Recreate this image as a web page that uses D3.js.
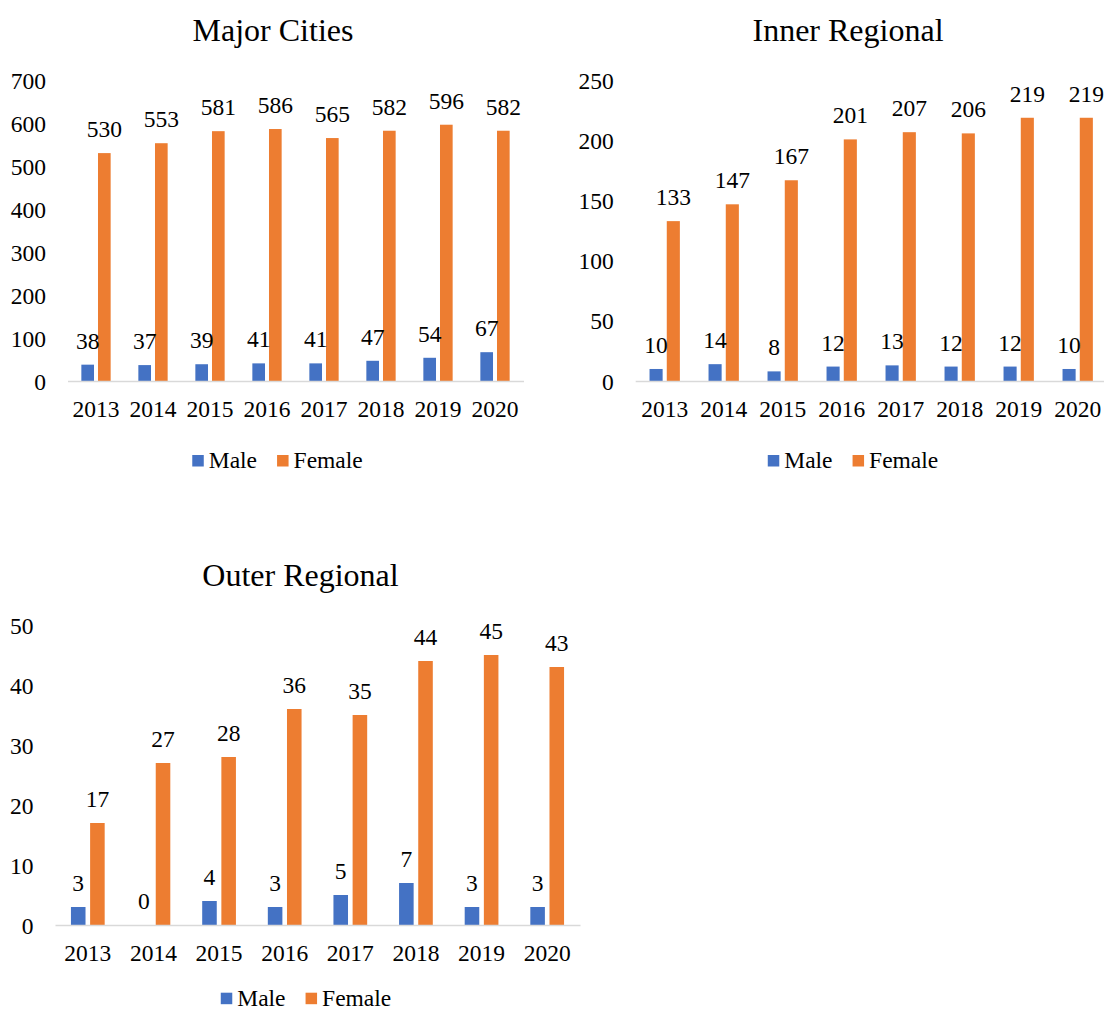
<!DOCTYPE html>
<html>
<head>
<meta charset="utf-8">
<script src="https://cdn.jsdelivr.net/npm/d3@7"></script>
<style>
  html, body { margin: 0; padding: 0; background: #fff; }
  svg { display: block; }
  svg text { font-family: "Liberation Serif", "Times New Roman", Times, serif !important; fill: #000; }
</style>
</head>
<body>
<svg id="chart" width="1104" height="1012"></svg>
<script>
// ---- data ----
const years = ["2013", "2014", "2015", "2016", "2017", "2018", "2019", "2020"];
const seriesNames = ["Male", "Female"];
const seriesColors = ["#4472C4", "#ED7D31"];

const majorMale   = [38, 37, 39, 41, 41, 47, 54, 67];
const majorFemale = [530, 553, 581, 586, 565, 582, 596, 582];
const majorTicks  = [0, 100, 200, 300, 400, 500, 600, 700];

const innerMale   = [10, 14, 8, 12, 13, 12, 12, 10];
const innerFemale = [133, 147, 167, 201, 207, 206, 219, 219];
const innerTicks  = [0, 50, 100, 150, 200, 250];

const outerMale   = [3, 0, 4, 3, 5, 7, 3, 3];
const outerFemale = [17, 27, 28, 36, 35, 44, 45, 43];
const outerTicks  = [0, 10, 20, 30, 40, 50];

// ---- layout ----
const panels = [
  { title: "Major Cities",   male: majorMale, female: majorFemale, ticks: majorTicks,
    x0: 67.5, x1: 523.5, y0: 381, y1: 80,  titleX: 273, titleY: 41,  legendX: 277.5, legendY: 468.3 },
  { title: "Inner Regional", male: innerMale, female: innerFemale, ticks: innerTicks,
    x0: 635.2, x1: 1107.2, y0: 381, y1: 80.5, titleX: 848, titleY: 41, legendX: 853, legendY: 468.3 },
  { title: "Outer Regional", male: outerMale, female: outerFemale, ticks: outerTicks,
    x0: 55, x1: 580, y0: 925, y1: 625, titleX: 300.5, titleY: 586, legendX: 306, legendY: 1006 }
];

const FS = 23.5;
const FF = "'Liberation Serif','Times New Roman',Times,serif";
const svg = d3.select("#chart");

panels.forEach(p => {
  const g = svg.append("g").attr("font-family", FF);
  const x = d3.scaleBand().domain(years).range([p.x0, p.x1]).paddingInner(0).paddingOuter(0);
  const B = x.bandwidth();
  const xs = d3.scaleBand().domain(seriesNames).range([B * 0.243, B * 0.757]).paddingInner(0.24);
  const y = d3.scaleLinear().domain([0, p.ticks[p.ticks.length - 1]]).range([p.y0, p.y1]);

  // y axis (labels only)
  const ya = g.append("g").attr("transform", `translate(${p.x0},0)`)
    .call(d3.axisLeft(y).tickValues(p.ticks).tickSize(0).tickPadding(21.5).tickFormat(d3.format("d")));
  ya.attr("font-family", FF).attr("font-size", FS);
  ya.select(".domain").remove();
  ya.selectAll("text").attr("font-size", FS).attr("dy", "0.34em")
    .attr("font-family", FF).attr("fill", "#000");

  // bars
  const data = years.map((yr, i) => ({ yr, vals: [p.male[i], p.female[i]] }));
  const grp = g.selectAll("g.grp").data(data).join("g").attr("class", "grp")
    .attr("transform", d => `translate(${x(d.yr)},0)`);
  grp.selectAll("rect").data(d => d.vals.map((v, k) => ({ v, k })))
    .join("rect")
    .attr("x", d => xs(seriesNames[d.k]))
    .attr("width", xs.bandwidth())
    .attr("y", d => y(d.v))
    .attr("height", d => y(0) - y(d.v))
    .attr("fill", d => seriesColors[d.k]);
  grp.selectAll("text.lbl").data(d => d.vals.map((v, k) => ({ v, k })))
    .join("text").attr("class", "lbl")
    .attr("x", d => xs(seriesNames[d.k]) + xs.bandwidth() / 2)
    .attr("y", d => y(d.v) - 16)
    .attr("text-anchor", "middle")
    .attr("font-family", FF)
    .attr("font-size", FS)
    .text(d => d.v);

  // x axis
  const xa = g.append("g").attr("transform", `translate(0,${p.y0})`)
    .call(d3.axisBottom(x).tickSize(0).tickSizeOuter(0));
  xa.attr("font-family", FF).attr("font-size", FS);
  xa.select(".domain").attr("stroke", "#D9D9D9").attr("stroke-width", 1.5);
  xa.selectAll("text").attr("font-size", FS).attr("dy", null).attr("y", 36)
    .attr("font-family", FF).attr("fill", "#000");

  // title
  g.append("text").attr("x", p.titleX).attr("y", p.titleY)
    .attr("text-anchor", "middle").attr("font-family", FF).attr("font-size", 32).text(p.title);

  // legend
  const lg = g.append("g");
  const sw = 11.5, gapT = 5, gapItem = 20;
  let cx = 0;
  seriesNames.forEach((name, k) => {
    lg.append("rect").attr("x", cx).attr("y", p.legendY - 13.3).attr("width", sw).attr("height", sw)
      .attr("fill", seriesColors[k]);
    const t = lg.append("text").attr("x", cx + sw + gapT).attr("y", p.legendY)
      .attr("font-family", FF).attr("font-size", FS).text(name);
    cx += sw + gapT + t.node().getComputedTextLength() + gapItem;
  });
  const totalW = cx - gapItem;
  lg.attr("transform", `translate(${p.legendX - totalW / 2},0)`);
});
</script>
</body>
</html>
